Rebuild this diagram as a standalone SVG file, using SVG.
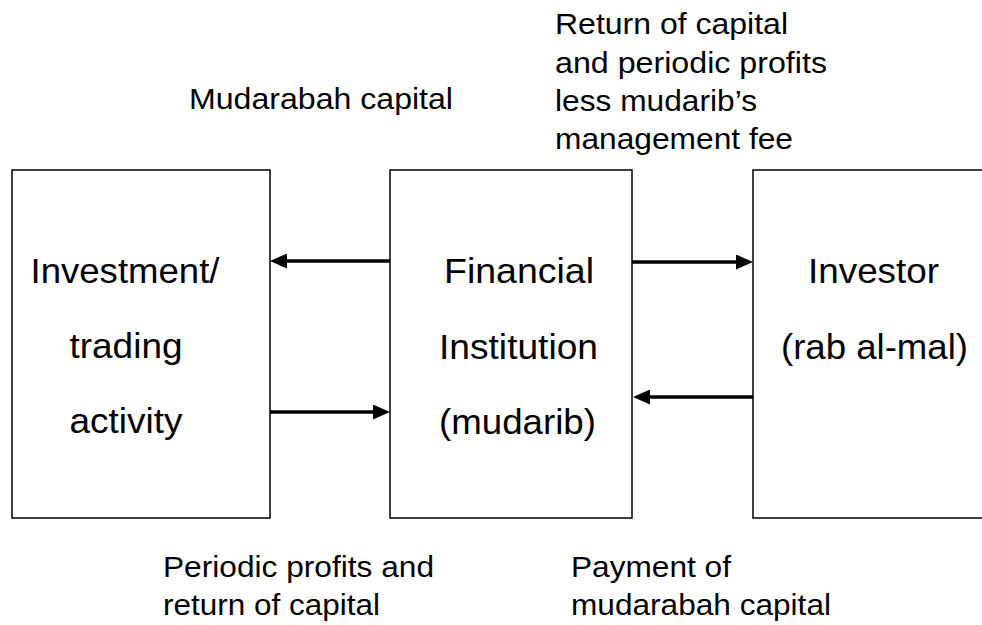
<svg xmlns="http://www.w3.org/2000/svg" width="982" height="625" viewBox="0 0 982 625">
  <style>
    .box { fill: #ffffff; stroke: #000000; stroke-width: 1.5; }
    .big { font-family: "Liberation Sans", Arial, sans-serif; font-size: 35px; fill: #000000; text-anchor: middle; }
    .lbl { font-family: "Liberation Sans", Arial, sans-serif; font-size: 29px; fill: #000000; }
    .conn { stroke: #000000; stroke-width: 3.5; fill: none; marker-end: url(#ah); }
  </style>
  <defs>
    <marker id="ah" markerUnits="userSpaceOnUse" markerWidth="17" markerHeight="15" refX="9" refY="7.5" orient="auto">
      <path d="M0,0 L17,7.5 L0,15 z" fill="#000000"/>
    </marker>
  </defs>
  <rect width="982" height="625" fill="#ffffff"/>

  <g id="investment">
    <rect class="box" x="12" y="170" width="258" height="348"/>
    <text class="big" x="125" y="283" textLength="189" lengthAdjust="spacingAndGlyphs">Investment/</text>
    <text class="big" x="126" y="358" textLength="113" lengthAdjust="spacingAndGlyphs">trading</text>
    <text class="big" x="126" y="433" textLength="113" lengthAdjust="spacingAndGlyphs">activity</text>
  </g>

  <g id="institution">
    <rect class="box" x="390" y="170" width="242" height="348"/>
    <text class="big" x="519" y="283" textLength="150" lengthAdjust="spacingAndGlyphs">Financial</text>
    <text class="big" x="518.5" y="359" textLength="159" lengthAdjust="spacingAndGlyphs">Institution</text>
    <text class="big" x="517.5" y="434" textLength="157" lengthAdjust="spacingAndGlyphs">(mudarib)</text>
  </g>

  <g id="investor">
    <rect class="box" x="753" y="170" width="240" height="348"/>
    <text class="big" x="873.5" y="283" textLength="131" lengthAdjust="spacingAndGlyphs">Investor</text>
    <text class="big" x="874.5" y="359" textLength="187" lengthAdjust="spacingAndGlyphs">(rab al-mal)</text>
  </g>

  <g id="connectors">
    <line class="conn" x1="390" y1="261" x2="278" y2="261"/>
    <line class="conn" x1="270" y1="412" x2="382" y2="412"/>
    <line class="conn" x1="632" y1="262" x2="745" y2="262"/>
    <line class="conn" x1="753" y1="397" x2="641" y2="397"/>
  </g>

  <g id="labels">
    <text class="lbl" x="189" y="109" textLength="264" lengthAdjust="spacingAndGlyphs">Mudarabah capital</text>
    <text class="lbl" x="555" y="34" textLength="233" lengthAdjust="spacingAndGlyphs">Return of capital</text>
    <text class="lbl" x="555" y="72.5" textLength="272" lengthAdjust="spacingAndGlyphs">and periodic profits</text>
    <text class="lbl" x="555" y="111" textLength="202" lengthAdjust="spacingAndGlyphs">less mudarib’s</text>
    <text class="lbl" x="555" y="149" textLength="238" lengthAdjust="spacingAndGlyphs">management fee</text>
    <text class="lbl" x="163" y="577" textLength="271" lengthAdjust="spacingAndGlyphs">Periodic profits and</text>
    <text class="lbl" x="163" y="615" textLength="217" lengthAdjust="spacingAndGlyphs">return of capital</text>
    <text class="lbl" x="571" y="577" textLength="160" lengthAdjust="spacingAndGlyphs">Payment of</text>
    <text class="lbl" x="571" y="615" textLength="260" lengthAdjust="spacingAndGlyphs">mudarabah capital</text>
  </g>
</svg>
